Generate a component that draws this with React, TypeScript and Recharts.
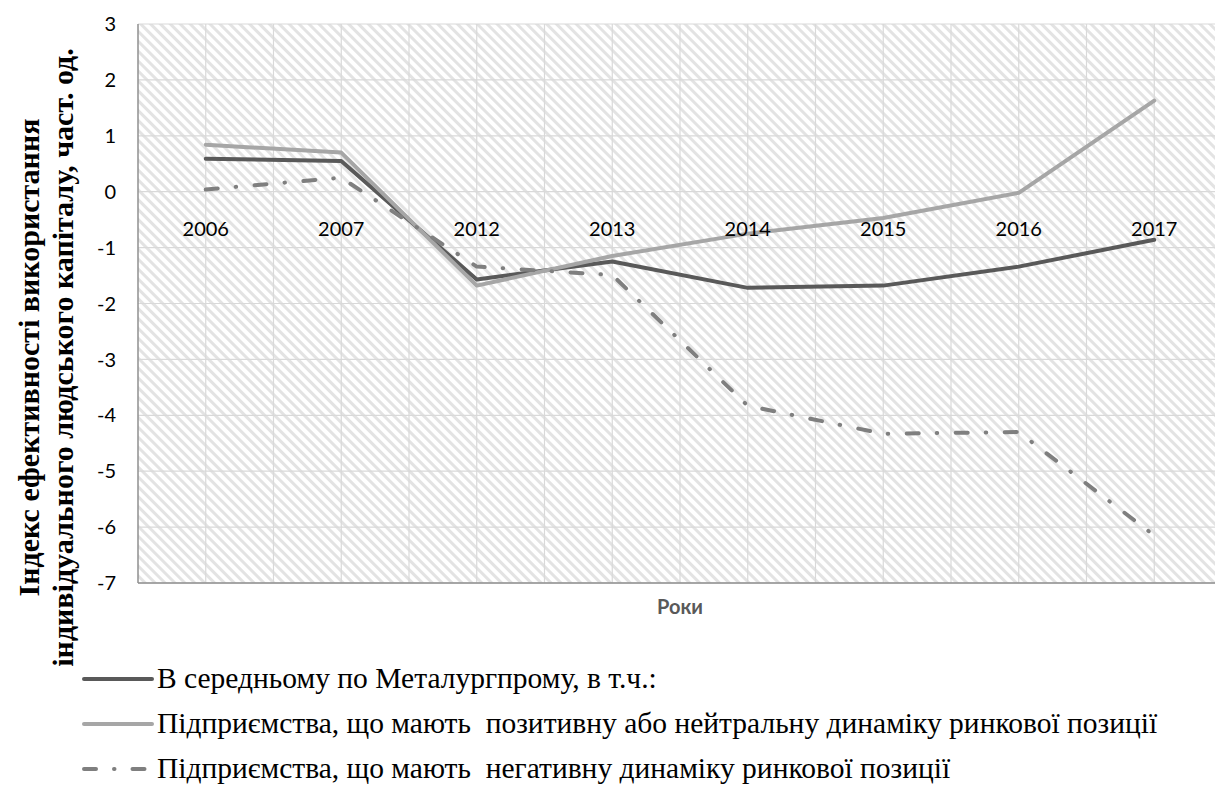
import React from "react"
import {
  LineChart,
  Line,
  XAxis,
  YAxis,
  CartesianGrid,
  ReferenceDot,
} from "recharts"

const years = ["2006", "2007", "2012", "2013", "2014", "2015", "2016", "2017"]
const avgMetal = [0.59, 0.55, -1.57, -1.25, -1.72, -1.68, -1.34, -0.86]
const positiveDyn = [0.84, 0.7, -1.68, -1.15, -0.75, -0.47, -0.02, 1.63]
const negativeDyn = [0.04, 0.25, -1.34, -1.49, -3.83, -4.33, -4.3, -6.15]
const yTicks = [3, 2, 1, 0, -1, -2, -3, -4, -5, -6, -7]

const series = [
  { key: "avg", name: "В середньому по Металургпрому, в т.ч.:", color: "#595959", dash: undefined },
  { key: "pos", name: "Підприємства, що мають  позитивну або нейтральну динаміку ринкової позиції", color: "#a6a6a6", dash: undefined },
  { key: "neg", name: "Підприємства, що мають  негативну динаміку ринкової позиції", color: "#7f7f7f", dash: "12 18 0.5 18.5" },
]

const data = years.map((year, i) => ({
  year,
  avg: avgMetal[i],
  pos: positiveDyn[i],
  neg: negativeDyn[i],
}))

const CHART_W = 1230
const PLOT_W = CHART_W - 138 - 8
const HALF_BAND = PLOT_W / years.length / 2

const tickFont = { fontFamily: "Lato", fontSize: 20, fill: "#000" }
const serif = '"Liberation Serif", "Times New Roman", serif'

const YTitle = ({ viewBox }: any) => {
  const cy = viewBox.y + viewBox.height / 2 + 54
  return (
    <g style={{ fontFamily: serif, fontWeight: "bold", fontSize: 30 }}>
      <text x={28} y={cy} transform={`rotate(-90 28 ${cy})`} textAnchor="middle" dominantBaseline="central">
        Індекс ефективності використання
      </text>
      <text x={62} y={cy} transform={`rotate(-90 62 ${cy})`} textAnchor="middle" dominantBaseline="central">
        індивідуального людського капіталу, част. од.
      </text>
    </g>
  )
}

const App = () => {
  return (
    <div style={{ position: "fixed", left: 0, top: 0, width: 1215, height: 785, overflow: "hidden", background: "#fff" }}>
      <LineChart width={CHART_W} height={785} data={data} margin={{ top: 24, right: 8, left: 0, bottom: 162 }}>
        <defs>
          <pattern id="hatch" width="7" height="7" patternUnits="userSpaceOnUse" patternTransform="rotate(45)">
            <rect width="7" height="7" fill="#fff" />
            <rect width="7" height="3" fill="#e3e3e3" />
          </pattern>
        </defs>
        <CartesianGrid
          fill="url(#hatch)"
          fillOpacity={1}
          stroke="#d9d9d9"
          strokeWidth={1.2}
          verticalCoordinatesGenerator={({ offset }: any) => {
            const band = offset.width / years.length
            const out: number[] = []
            for (let k = 1; k < years.length * 2; k++) out.push(offset.left + (k * band) / 2)
            return out
          }}
        />
        <XAxis
          dataKey="year"
          padding={{ left: HALF_BAND, right: HALF_BAND }}
          tick={false}
          tickLine={false}
          height={40}
          axisLine={{ stroke: "#8f8f8f", strokeWidth: 1.5 }}
          label={{ value: "Роки", position: "insideTop", offset: 17, style: { fontFamily: "Lato", fontWeight: "bold", fontSize: 20, fill: "#595959" } }}
        />
        <XAxis xAxisId="top" dataKey="year" orientation="top" height={0} tick={false} tickLine={false} axisLine={{ stroke: "#8f8f8f", strokeWidth: 1.5 }} />
        <YAxis
          domain={[-7, 3]}
          ticks={yTicks}
          interval={0}
          width={138}
          tickLine={false}
          tickMargin={16}
          tick={tickFont}
          axisLine={{ stroke: "#8f8f8f", strokeWidth: 1.5 }}
          label={<YTitle />}
        />
        {years.map((y) => (
          <ReferenceDot
            key={y}
            x={y}
            y={0}
            r={0}
            fill="none"
            stroke="none"
            label={{ value: y, position: "bottom", offset: 30, style: tickFont }}
          />
        ))}
        {series.map((s) => (
          <Line
            key={s.key}
            dataKey={s.key}
            name={s.name}
            stroke={s.color}
            strokeWidth={4}
            strokeDasharray={s.dash}
            strokeLinecap="round"
            strokeLinejoin="round"
            dot={false}
            activeDot={false}
            type="linear"
            isAnimationActive={false}
          />
        ))}
      </LineChart>
      <div style={{ position: "absolute", left: 82, top: 656, fontFamily: serif, fontSize: 29.5, color: "#000" }}>
        {series.map((s) => (
          <div key={s.key} style={{ display: "flex", alignItems: "center", height: 45, whiteSpace: "pre" }}>
            <svg width={72} height={10} style={{ marginRight: 3 }}>
              <line x1={2} y1={5} x2={70} y2={5} stroke={s.color} strokeWidth={4} strokeLinecap="round" strokeDasharray={s.dash ? "12 18 0.5 18" : undefined} />
            </svg>
            <span>{s.name}</span>
          </div>
        ))}
      </div>
    </div>
  )
}

export default App
